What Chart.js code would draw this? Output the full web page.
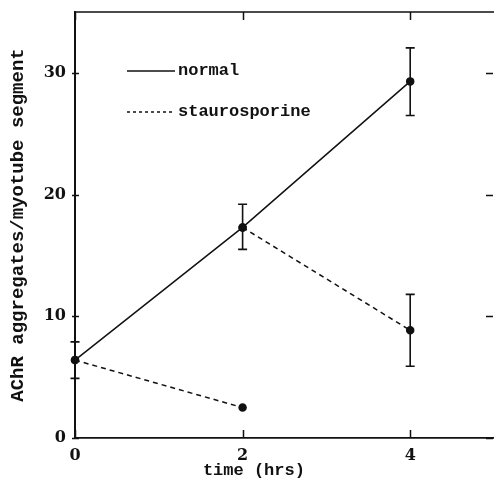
<!DOCTYPE html>
<html>
<head>
<meta charset="utf-8">
<script src="https://cdn.jsdelivr.net/npm/chart.js@4/dist/chart.umd.min.js"></script>
<style>
  html, body { margin: 0; padding: 0; background: #fff; }
  #wrap { width: 494px; height: 483px; }
</style>
</head>
<body>
<div id="wrap"><canvas id="chart"></canvas></div>
<script>
// values
const hours = [0, 2, 4];
const normalMean = [6.4, 17.3, 29.3];
const normalLow = [4.9, 15.5, 26.5];
const normalHigh = [7.9, 19.2, 32.05];

// staurosporine added at 0 h
const stauro0Hours = [0, 2];
const stauro0Mean = [6.4, 2.5];

// staurosporine added at 2 h
const stauro2Hours = [2, 4];
const stauro2Mean = [17.3, 8.85];
const stauro2Low = [null, 5.9];
const stauro2High = [null, 11.8];

const xTicks = [0, 2, 4];
const yTicks = [0, 10, 20, 30];

const legendLabels = ['normal', 'staurosporine'];

const INK = '#111';
const monoFont = '"Liberation Mono", "DejaVu Sans Mono", monospace';
const serifFont = '"DejaVu Serif", "Liberation Serif", serif';

function points(xs, ys) {
  return xs.map((x, i) => ({ x: x, y: ys[i] }));
}

// error bars, taken from errLow / errHigh on each dataset
const errorBars = {
  id: 'errorBars',
  afterDatasetsDraw(chart) {
    const ctx = chart.ctx;
    const xs = chart.scales.x;
    const ys = chart.scales.y;
    ctx.save();
    ctx.strokeStyle = INK;
    ctx.lineWidth = 1.6;
    chart.data.datasets.forEach((ds) => {
      if (!ds.errLow) return;
      ds.data.forEach((p, i) => {
        const lo = ds.errLow[i];
        const hi = ds.errHigh[i];
        if (lo == null || hi == null) return;
        const px = xs.getPixelForValue(p.x);
        const pLo = ys.getPixelForValue(lo);
        const pHi = ys.getPixelForValue(hi);
        ctx.beginPath();
        ctx.moveTo(px, pLo);
        ctx.lineTo(px, pHi);
        ctx.moveTo(px - 4.5, pLo);
        ctx.lineTo(px + 4.5, pLo);
        ctx.moveTo(px - 4.5, pHi);
        ctx.lineTo(px + 4.5, pHi);
        ctx.stroke();
      });
    });
    ctx.restore();
  }
};

// tick marks on all four sides plus the top frame line
const frameTicks = {
  id: 'frameTicks',
  afterDraw(chart) {
    const ctx = chart.ctx;
    const a = chart.chartArea;
    const xs = chart.scales.x;
    const ys = chart.scales.y;
    ctx.save();
    ctx.strokeStyle = INK;
    ctx.lineWidth = 1.5;
    ctx.beginPath();
    ctx.moveTo(a.left, a.top);
    ctx.lineTo(a.right, a.top);
    xTicks.forEach((v) => {
      const px = Math.round(xs.getPixelForValue(v)) + 0.5;
      ctx.moveTo(px, a.bottom);
      ctx.lineTo(px, a.bottom - 8);
      ctx.moveTo(px, a.top);
      ctx.lineTo(px, a.top + 8);
    });
    yTicks.forEach((v) => {
      const py = Math.round(ys.getPixelForValue(v)) + 0.5;
      ctx.moveTo(a.left - 3, py);
      ctx.lineTo(a.left + 4, py);
      ctx.moveTo(a.right - 1, py);
      ctx.lineTo(a.right - 8, py);
    });
    ctx.stroke();
    ctx.restore();
  }
};

// legend drawn inside the plot, upper left
const insideLegend = {
  id: 'insideLegend',
  afterDraw(chart) {
    const ctx = chart.ctx;
    const a = chart.chartArea;
    const rows = [
      { label: legendLabels[0], dash: [], y: a.top + 59 },
      { label: legendLabels[1], dash: [3, 3], y: a.top + 100 }
    ];
    ctx.save();
    ctx.strokeStyle = INK;
    ctx.fillStyle = INK;
    ctx.lineWidth = 1.4;
    ctx.font = 'bold 17px ' + monoFont;
    ctx.textBaseline = 'middle';
    rows.forEach((r) => {
      ctx.setLineDash(r.dash);
      ctx.beginPath();
      ctx.moveTo(a.left + 52, r.y);
      ctx.lineTo(a.left + 100, r.y);
      ctx.stroke();
      ctx.fillText(r.label, a.left + 103, r.y);
    });
    ctx.restore();
  }
};

const lineStyle = {
  showLine: true,
  borderColor: INK,
  backgroundColor: INK,
  borderWidth: 1.5,
  pointRadius: 3.5,
  pointHoverRadius: 3.5,
  pointBackgroundColor: INK,
  pointBorderColor: INK,
  clip: false,
  tension: 0
};

new Chart(document.getElementById('chart'), {
  type: 'scatter',
  data: {
    datasets: [
      Object.assign({}, lineStyle, {
        label: legendLabels[0],
        data: points(hours, normalMean),
        errLow: normalLow,
        errHigh: normalHigh
      }),
      Object.assign({}, lineStyle, {
        label: legendLabels[1],
        data: points(stauro0Hours, stauro0Mean),
        borderDash: [5, 4]
      }),
      Object.assign({}, lineStyle, {
        label: legendLabels[1] + ' (2 h)',
        data: points(stauro2Hours, stauro2Mean),
        borderDash: [5, 4],
        errLow: stauro2Low,
        errHigh: stauro2High
      })
    ]
  },
  options: {
    responsive: true,
    maintainAspectRatio: false,
    animation: false,
    layout: { autoPadding: false, padding: { top: 12, right: 0, left: 0, bottom: 0 } },
    plugins: {
      legend: { display: false },
      tooltip: { enabled: false }
    },
    scales: {
      x: {
        type: 'linear',
        min: 0,
        max: 5,
        afterBuildTicks(scale) {
          scale.ticks = xTicks.map((v) => ({ value: v }));
        },
        afterFit(scale) {
          scale.height = 45;
          scale.paddingLeft = 0;
          scale.paddingRight = 0;
        },
        grid: { display: true, drawOnChartArea: false, drawTicks: false },
        border: { display: true, color: INK, width: 1.8 },
        ticks: {
          color: INK,
          padding: 8,
          font: { family: serifFont, size: 16, weight: 'bold' }
        },
        title: {
          display: true,
          text: 'time (hrs)      ',
          color: INK,
          font: { family: monoFont, size: 17, weight: 'bold' },
          padding: { top: 0, bottom: 2 }
        }
      },
      y: {
        type: 'linear',
        min: 0,
        max: 35,
        afterBuildTicks(scale) {
          scale.ticks = yTicks.map((v) => ({ value: v }));
        },
        afterFit(scale) {
          scale.width = 75;
          scale.paddingTop = 0;
          scale.paddingBottom = 0;
        },
        grid: { display: true, drawOnChartArea: false, drawTicks: false },
        border: { display: true, color: INK, width: 2 },
        ticks: {
          color: INK,
          padding: 9,
          font: { family: serifFont, size: 16, weight: 'bold' }
        },
        title: {
          display: true,
          text: 'AChR aggregates/myotube segment',
          color: INK,
          font: { family: monoFont, size: 19, weight: 'bold' },
          padding: { top: 7, bottom: 0 }
        }
      }
    }
  },
  plugins: [errorBars, frameTicks, insideLegend]
});
</script>
</body>
</html>
